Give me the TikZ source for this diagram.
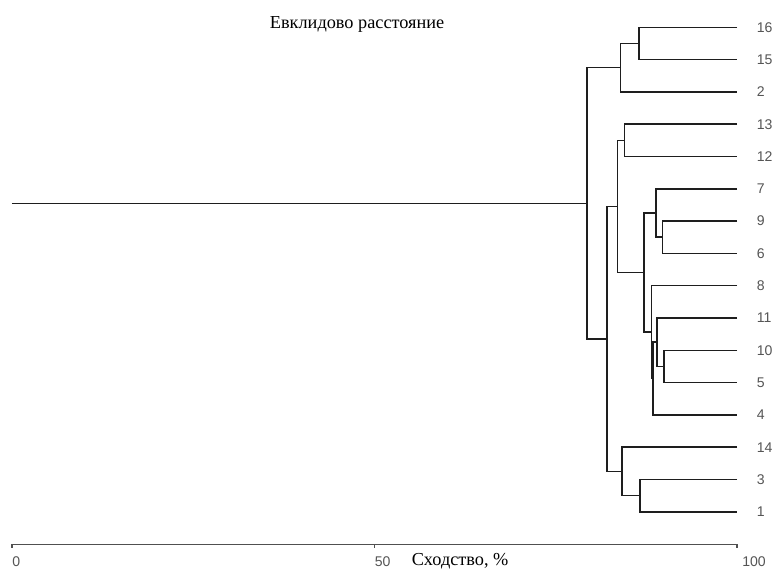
\documentclass[tikz,border=0pt]{standalone}
\usepackage{fontspec}
\setmainfont{Liberation Serif}
\setsansfont{Liberation Sans}
\usetikzlibrary{positioning}
\definecolor{dgline}{RGB}{30,30,30}
\definecolor{dgaxis}{RGB}{80,80,80}
\definecolor{dglabel}{RGB}{85,85,85}

\begin{document}
\begin{tikzpicture}[x=0.18125cm, y=-0.8075cm,
  branch/.style={dgline, line width=1.1pt},
  axisline/.style={dgaxis, line width=0.8pt},
  leaflbl/.style={font=\fontsize{10}{12}\sffamily, text=dglabel, anchor=west, inner sep=0pt},
  ticklbl/.style={font=\fontsize{10}{12}\sffamily, text=dglabel, anchor=north west, inner sep=0pt},
  caption/.style={font=\fontsize{13}{15}\selectfont, text=black, inner sep=0pt}]

% frame: 0% sits 12px in, leaf 16 sits 27px down, one leaf = 32.3px
\clip (-1.655,-0.845) rectangle (105.38,16.833);
\fill[white] (-1.655,-0.845) rectangle (105.38,16.833);

\node[caption, anchor=base] (title) at (47.6,0.03) {Евклидово расстояние};

% ================= leaves =================
\foreach \lbl/\i in {16/0, 15/1, 2/2, 13/3, 12/4, 7/5, 9/6, 6/7,
                     8/8, 11/9, 10/10, 5/11, 4/12, 14/13, 3/14, 1/15} {
  \coordinate (l\lbl) at (100,\i);
  \node[leaflbl] (n\lbl) at (102.7,\i) {\lbl};
}

% ================= merges =================
% x = similarity in %, y = halfway between the two joined branches
\foreach \m/\x/\y in {m1615/86.48/0.5, m2/83.96/1.25, m1312/84.46/3.5,
                      m96/89.70/6.5, mF/88.83/5.75, m105/89.93/10.5,
                      mH/88.97/9.75, mH4/88.45/10.875, mG/88.2/9.4375,
                      mE/87.17/7.594, mC/83.54/5.547, m31/86.62/14.5,
                      mD/84.1/13.75, mB/82.1/9.648, mroot/79.3/5.449}
  \coordinate (\m) at (\x,\y);

\foreach \a/\m/\b in {l16/m1615/l15, m1615/m2/l2, l13/m1312/l12,
                      l9/m96/l6, l7/mF/m96, l10/m105/l5, l11/mH/m105,
                      mH/mH4/l4, l8/mG/mH4, mF/mE/mG, m1312/mC/mE,
                      l3/m31/l1, l14/mD/m31, mC/mB/mD, m2/mroot/mB}
  \draw[branch] (\a) -| (\m) |- (\b);

% trunk out to 0%
\coordinate (root) at (0,5.449);
\draw[branch] (root) -- (mroot);

% ================= similarity axis =================
\coordinate (ax0) at (0,16);
\coordinate (ax100) at (100,16);
\draw[axisline] (ax0) -- (ax100);
\foreach \t/\dx in {0/0, 50/0, 100/0.7} {
  \draw[axisline] (\t,16) -- (\t,16.12);
  \node[ticklbl] (t\t) at (\t+\dx,16.37) {\t};
}
% lifted a little so the caption stays inside the frame
\node[caption, anchor=south west] (xlab) at (55.1,16.79) {Сходство, \%};
\end{tikzpicture}
\end{document}
